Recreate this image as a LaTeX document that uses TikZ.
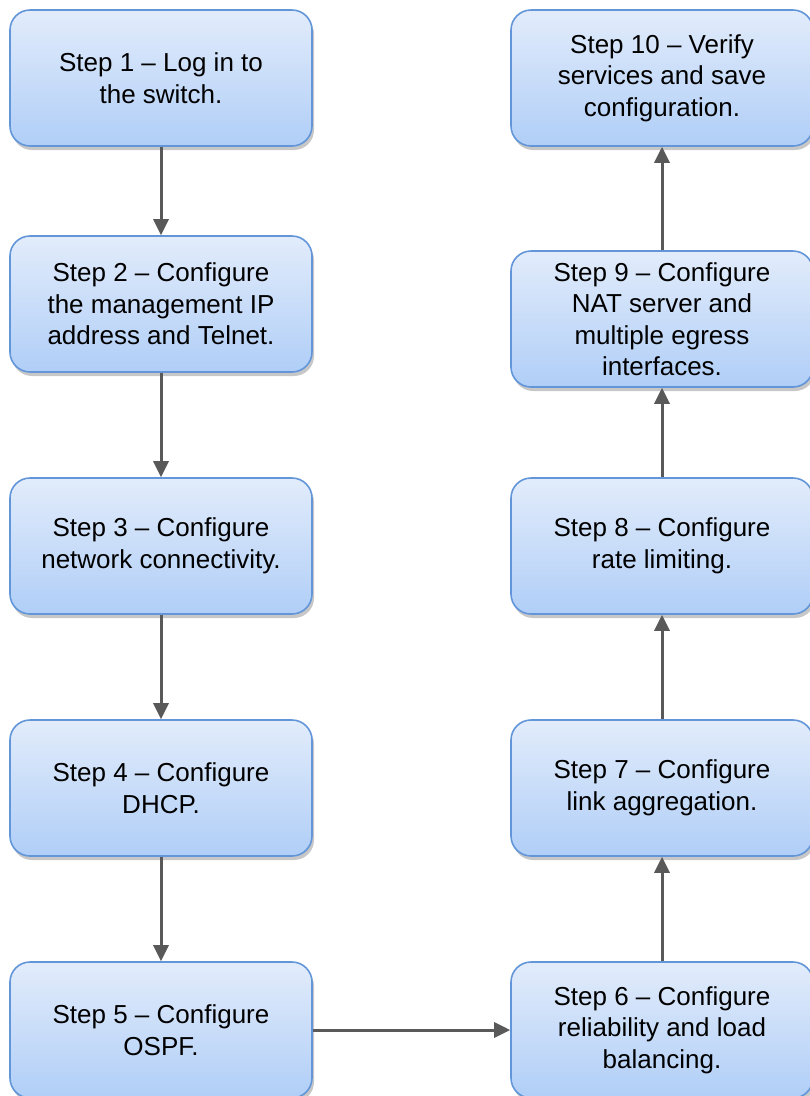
\documentclass[tikz,border=0pt]{standalone}
\usepackage{fontspec}
\setmainfont{Liberation Sans}
\usetikzlibrary{arrows.meta,shadows}
\definecolor{boxedge}{RGB}{98,150,217}
\definecolor{boxtop}{RGB}{226,236,251}
\definecolor{boxbottom}{RGB}{176,206,247}
\definecolor{flowgray}{RGB}{89,89,89}
\tikzset{
  stepbox/.style={draw=boxedge, line width=1.6pt, rounded corners=20pt,
    top color=boxtop, bottom color=boxbottom,
    minimum width=302pt, minimum height=136pt, inner sep=0pt,
    align=center, font=\fontsize{26}{31.5}\selectfont,
    drop shadow={shadow xshift=2pt, shadow yshift=-4pt, opacity=0.22, fill=black}},
  flow/.style={draw=flowgray, line width=3pt,
    -{Triangle[length=16pt,width=15pt]}}
}
\begin{document}
\begin{tikzpicture}[x=1pt,y=-1pt]
\useasboundingbox (0,0) rectangle (810,1096);
\clip (0,0) rectangle (810,1096);
% left column, top to bottom
\node[stepbox] (s1) at (161,78)   {Step 1 – Log in to\\the switch.};
\node[stepbox] (s2) at (161,304)  {Step 2 – Configure\\the management IP\\address and Telnet.};
\node[stepbox] (s3) at (161,546)  {Step 3 – Configure\\network connectivity.};
\node[stepbox] (s4) at (161,788)  {Step 4 – Configure\\DHCP.};
\node[stepbox] (s5) at (161,1030) {Step 5 – Configure\\OSPF.};
% right column, bottom to top
\node[stepbox] (s6) at (662,1030) {Step 6 – Configure\\reliability and load\\balancing.};
\node[stepbox] (s7) at (662,788)  {Step 7 – Configure\\link aggregation.};
\node[stepbox] (s8) at (662,546)  {Step 8 – Configure\\rate limiting.};
\node[stepbox] (s9) at (662,319)  {Step 9 – Configure\\NAT server and\\multiple egress\\interfaces.};
\node[stepbox] (s10) at (662,78)  {Step 10 – Verify\\services and save\\configuration.};
% connectors
\draw[flow] (s1) -- (s2);
\draw[flow] (s2) -- (s3);
\draw[flow] (s3) -- (s4);
\draw[flow] (s4) -- (s5);
\draw[flow] (s5) -- (s6);
\draw[flow] (s6) -- (s7);
\draw[flow] (s7) -- (s8);
\draw[flow] (s8) -- (s9);
\draw[flow] (s9) -- (s10);
\end{tikzpicture}
\end{document}
